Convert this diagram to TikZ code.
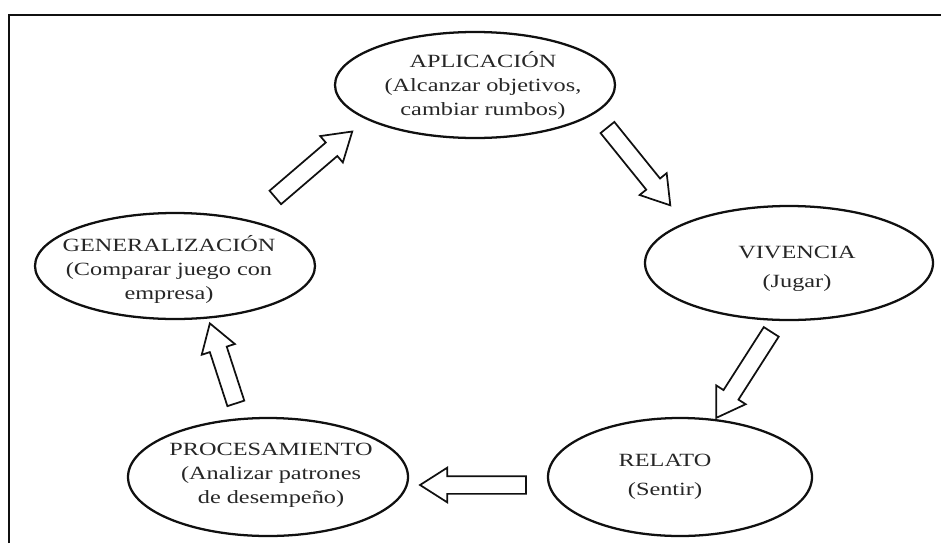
\documentclass[tikz,border=0pt]{standalone}
\usepackage{fontspec}
\usepackage{xcolor}
\usepackage{tikz}
\usetikzlibrary{calc,shapes.geometric,shapes.arrows}
\newfontfamily\phasefont{Liberation Serif}[FakeStretch=1.3]
\definecolor{ink}{HTML}{101010}
\definecolor{type}{HTML}{262626}
\tikzset{
  frame/.style={draw=ink, line width=1.4pt},
  phase/.style={ellipse, draw=ink, line width=1.7pt, inner sep=0pt},
  caption/.style={align=center, text=type, inner sep=0pt, font=\phasefont\fontsize{14}{18}\selectfont},
  captionw/.style={caption, font=\phasefont\fontsize{14}{21.5}\selectfont},
  flow/.style={single arrow, draw=ink, fill=white, line width=1.3pt, inner xsep=0pt, inner ysep=6pt,
    single arrow head extend=6.4pt, single arrow tip angle=65, single arrow head indent=0pt},
}
\newcommand{\flowarrow}[2]{%
  \path let \p1=($(#2)-(#1)$), \n1={atan2(\y1,\x1)}, \n2={veclen(\x1,\y1)} in
    node[flow, rotate=\n1, minimum height=\n2] at ($(#1)!0.5!(#2)$) {};}

\begin{document}
\begin{tikzpicture}[x=0.75pt, y=-0.75pt]
  \useasboundingbox (0,0) rectangle (941,543);
  \draw[frame] (9,543) -- (9,15) -- (941,15);
  % the five phases
  \node[phase, minimum width=210pt, minimum height=79.5pt] (apl) at (475,85) {};
  \node[phase, minimum width=216pt, minimum height=85.5pt] (viv) at (789,263) {};
  \node[phase, minimum width=198pt, minimum height=88.5pt] (rel) at (680,477) {};
  \node[phase, minimum width=210pt, minimum height=88.5pt] (pro) at (268,477) {};
  \node[phase, minimum width=210pt, minimum height=79.5pt] (gen) at (175,266) {};
  \node[caption] (apl-t) at ($(apl)+(8,0)$) {APLICACIÓN\\(Alcanzar objetivos,\\cambiar rumbos)};
  \node[captionw] (viv-t) at ($(viv)+(8,6)$) {VIVENCIA\\(Jugar)};
  \node[captionw] (rel-t) at ($(rel)+(-15,0)$) {RELATO\\(Sentir)};
  \node[caption] (pro-t) at ($(pro)+(3,-2)$) {PROCESAMIENTO\\(Analizar patrones\\de desempeño)};
  \node[caption] (gen-t) at ($(gen)+(-6,3)$) {GENERALIZACIÓN\\(Comparar juego con\\empresa)};
  % arrow ends
  \coordinate (g2a-a) at (270,202);
  \coordinate (g2a-b) at (347,136);
  \coordinate (a2v-a) at (603,122);
  \coordinate (a2v-b) at (666,200);
  \coordinate (v2r-a) at (775,326);
  \coordinate (v2r-b) at (720,412);
  \coordinate (r2p-a) at (533,485);
  \coordinate (r2p-b) at (427,485);
  \coordinate (p2g-a) at (238,410);
  \coordinate (p2g-b) at (212,330);
  \flowarrow{g2a-a}{g2a-b}
  \flowarrow{a2v-a}{a2v-b}
  \flowarrow{v2r-a}{v2r-b}
  \flowarrow{r2p-a}{r2p-b}
  \flowarrow{p2g-a}{p2g-b}
\end{tikzpicture}
\end{document}
